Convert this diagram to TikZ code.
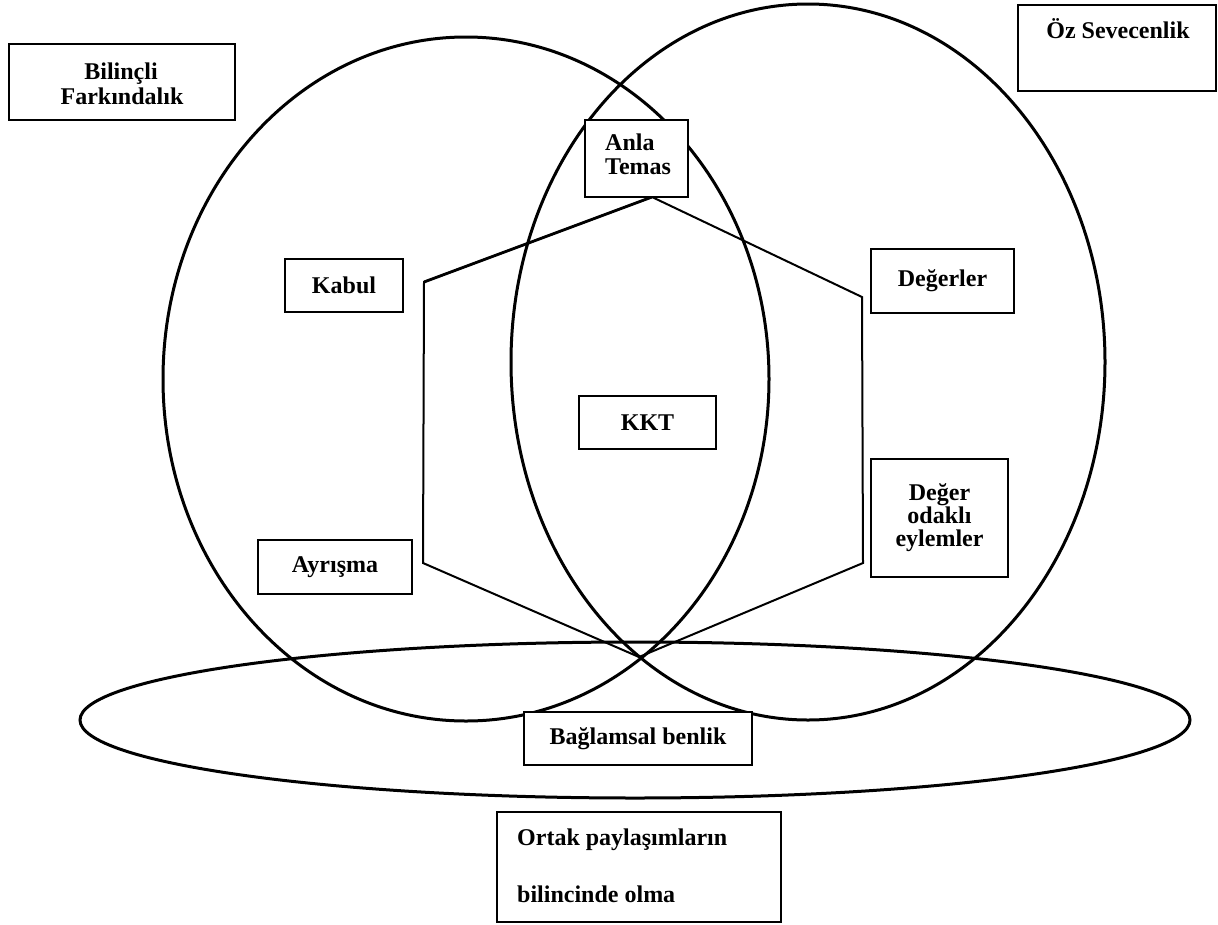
\documentclass[tikz,border=0pt]{standalone}
\usepackage{fontspec}
\setmainfont{Liberation Serif}
\begin{document}
\begin{tikzpicture}[x=1pt,y=-1pt,
  box/.style={draw, line width=2pt, fill=white, inner sep=0pt},
  txt/.style={font=\fontsize{24}{23}\selectfont\bfseries, inner sep=0pt, align=center},
  ring/.style={line width=3pt},
  hex/.style={line width=2pt, line join=miter}]
\useasboundingbox (0,0) rectangle (1218,924);
% circles
\draw[ring] (466,379) ellipse [x radius=303, y radius=342];
\draw[ring] (808,362) ellipse [x radius=297, y radius=358];
\draw[ring] (635,720) ellipse [x radius=555, y radius=78];
% hexagon
\coordinate (h1) at (652,197);
\coordinate (h2) at (862,297);
\coordinate (h3) at (863,563);
\coordinate (h4) at (639,657);
\coordinate (h5) at (423,563);
\coordinate (h6) at (424,282);
\draw[hex] (h1) -- (h2) -- (h3) -- (h4) -- (h5) -- (h6) -- cycle;
\draw[hex, line width=2.8pt] (h6) -- (h1);
% boxes
\node[box, minimum width=226, minimum height=76] (bf) at (122,82) {};
\node[txt, anchor=base] (bf1) at (121,79) {Bilinçli};
\node[txt, anchor=base] (bf2) at (122,104) {Farkındalık};
\node[box, minimum width=198, minimum height=86] (oz) at (1117,48) {};
\node[txt, anchor=base] (oztxt) at (1118,38) {Öz Sevecenlik};
\node[box, minimum width=103, minimum height=77] (at) at (636.5,158.5) {};
\node[txt, anchor=base west] (at1) at (605,150) {Anla};
\node[txt, anchor=base west] (at2) at (605,174) {Temas};
\node[box, txt, minimum width=118, minimum height=53] (kabul) at (344,285.5) {Kabul};
\node[box, txt, minimum width=143, minimum height=64] (deg) at (942.5,281) {Değerler};
\node[box, txt, minimum width=137, minimum height=53] (kkt) at (647.5,422.5) {KKT};
\node[box, txt, minimum width=137, minimum height=118] (doe) at (939.5,518) {Değer\\odaklı\\eylemler};
\node[box, txt, minimum width=154, minimum height=54] (ayr) at (335,567) {Ayrışma};
\node[box, txt, minimum width=228, minimum height=53] (bb) at (638,738.5) {Bağlamsal benlik};
\node[box, minimum width=284, minimum height=110] (ortak) at (639,867) {};
\node[txt, anchor=base west] (ortak1) at (517,845) {Ortak paylaşımların};
\node[txt, anchor=base west] (ortak2) at (517,902) {bilincinde olma};
\end{tikzpicture}
\end{document}
